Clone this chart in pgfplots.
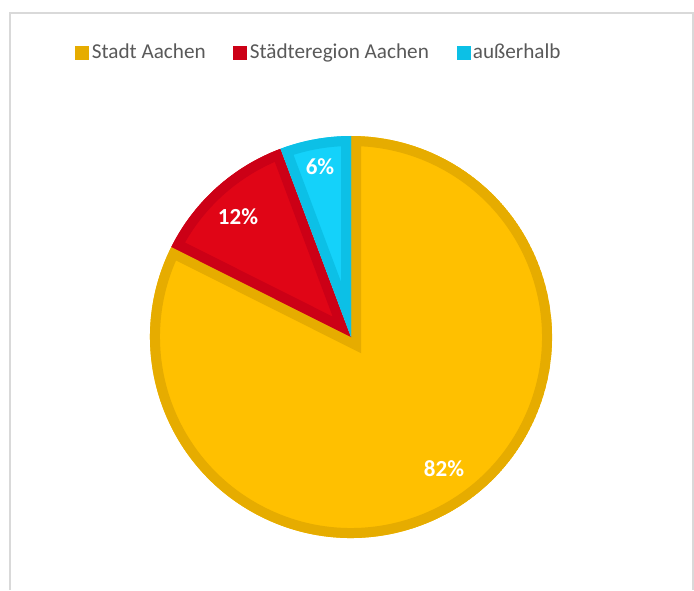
\documentclass[border=0pt]{standalone}
\usepackage{pgfplots}
\pgfplotsset{compat=1.18}
\usepackage{pgfplotstable}
\usepackage{fontspec}
\setmainfont{Carlito}
\definecolor{goldF}{HTML}{FFC000}
\definecolor{goldS}{HTML}{E6AC00}
\definecolor{redF}{HTML}{E00516}
\definecolor{redS}{HTML}{CC0016}
\definecolor{cyanF}{HTML}{14D2FA}
\definecolor{cyanS}{HTML}{0CC0E6}
\definecolor{txt}{HTML}{595959}
\definecolor{framec}{HTML}{D9D9D9}

\pgfplotstableread[col sep=comma]{
label,value
Stadt Aachen,82.4
Städteregion Aachen,11.9
außerhalb,5.7
}\piedata
\pgfplotstablegetelem{0}{value}\of\piedata \let\vA\pgfplotsretval
\pgfplotstablegetelem{1}{value}\of\piedata \let\vB\pgfplotsretval
\pgfplotstablegetelem{2}{value}\of\piedata \let\vC\pgfplotsretval
\pgfmathsetmacro{\aC}{90+3.6*\vC}
\pgfmathsetmacro{\aB}{\aC+3.6*\vB}
\pgfmathsetmacro{\aA}{\aB+3.6*\vA}

\newcommand{\slicepath}[2]{(axis cs:351,253) -- ++(#1:100.5pt) arc[start angle=#1, end angle=#2, radius=100.5pt] -- cycle}
\newcommand{\slice}[4]{%
  \begin{scope}
    \clip \slicepath{#1}{#2};
    \fill[#3] \slicepath{#1}{#2};
    \draw[#4, line width=10pt, line join=miter] \slicepath{#1}{#2};
  \end{scope}}

\begin{document}
\begin{tikzpicture}
\begin{axis}[
  scale only axis, width=347pt, height=295pt,
  xmin=0, xmax=694, ymin=0, ymax=590,
  hide axis, clip=false,
  legend image code/.code={\fill[#1] (0pt,-3.25pt) rectangle (6.5pt,3.25pt);},
  legend style={at={(axis cs:75,537)}, anchor=west, draw=none, fill=none,
    font=\fontsize{10.6pt}{12pt}\selectfont, text=txt, legend columns=-1,
    inner sep=0pt, nodes={inner sep=1.3pt},
    /tikz/every even column/.append style={column sep=12.5pt}},
]
\addlegendimage{goldS}
\addlegendentry{Stadt Aachen}
\addlegendimage{redS}
\addlegendentry{Städteregion Aachen}
\addlegendimage{cyanS}
\addlegendentry{außerhalb}

\draw[framec, line width=1pt] (axis cs:10,0) -- (axis cs:10,577) -- (axis cs:693,577) -- (axis cs:693,0);

\slice{\aB}{\aA}{goldF}{goldS}
\slice{\aC}{\aB}{redF}{redS}
\slice{90}{\aC}{cyanF}{cyanS}

\node[white, font=\bfseries\fontsize{11.5pt}{13pt}\selectfont] at (axis cs:320,423) {6\%};
\node[white, font=\bfseries\fontsize{11.5pt}{13pt}\selectfont] at (axis cs:238,373) {12\%};
\node[white, font=\bfseries\fontsize{11.5pt}{13pt}\selectfont] at (axis cs:444,121) {82\%};
\end{axis}
\pgfresetboundingbox
\path (0,0) rectangle (347pt,295pt);
\end{tikzpicture}
\end{document}
